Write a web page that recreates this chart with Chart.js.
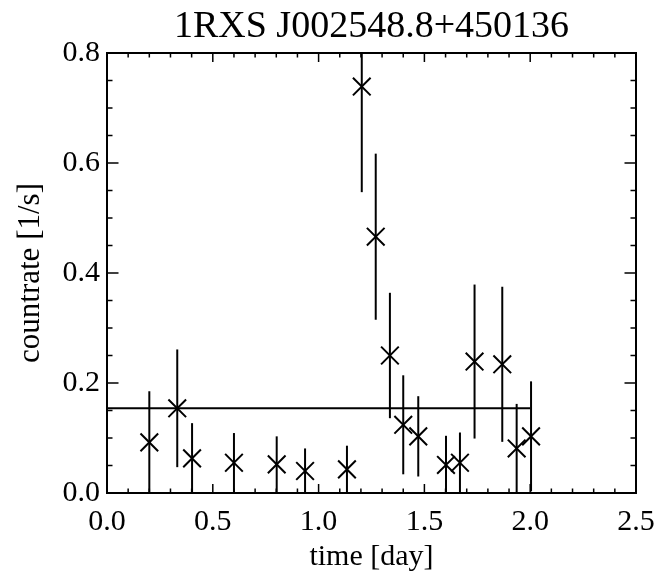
<!DOCTYPE html>
<html>
<head>
<meta charset="utf-8">
<script src="https://cdn.jsdelivr.net/npm/chart.js@4"></script>
<style>
  html, body { margin: 0; padding: 0; background: #fff; }
  #wrap { width: 670px; height: 575px; }
</style>
</head>
<body>
<div id="wrap"><canvas id="lc" width="670" height="575"></canvas></div>
<script>
// ==================== LIGHT CURVE DATA ====================
const times = [0.200, 0.332, 0.402, 0.600, 0.802, 0.936, 1.134, 1.204, 1.270,
               1.337, 1.400, 1.471, 1.602, 1.668, 1.737, 1.868, 1.936, 2.004];
const rates = [0.092, 0.154, 0.063, 0.055, 0.052, 0.040, 0.043, 0.739, 0.466,
               0.250, 0.124, 0.103, 0.051, 0.055, 0.239, 0.234, 0.081, 0.103];
const rateErrors = [0.093, 0.107, 0.064, 0.054, 0.051, 0.041, 0.043, 0.192, 0.151,
                    0.114, 0.090, 0.073, 0.053, 0.055, 0.140, 0.141, 0.081, 0.100];
const meanRate = 0.154;
const meanSpan = [0.0, 2.0];
const xTickValues = [0.0, 0.5, 1.0, 1.5, 2.0, 2.5];
const yTickValues = [0.0, 0.2, 0.4, 0.6, 0.8];
const xMinorStep = 0.1;
const yMinorStep = 0.05;

const SERIF = '"Liberation Serif", "Times New Roman", serif';
Chart.defaults.color = '#000';
Chart.defaults.font.family = SERIF;

// Vertical error bars, drawn through the chart's scales and clipped to the plot
const errorBars = {
  id: 'errorBars',
  afterDatasetsDraw(chart) {
    const { ctx, chartArea: a, scales: { x, y } } = chart;
    ctx.save();
    ctx.beginPath();
    ctx.rect(a.left, a.top, a.right - a.left, a.bottom - a.top);
    ctx.clip();
    ctx.strokeStyle = '#000';
    ctx.lineWidth = 2;
    times.forEach((t, i) => {
      const px = x.getPixelForValue(t);
      ctx.beginPath();
      ctx.moveTo(px, y.getPixelForValue(rates[i] - rateErrors[i]));
      ctx.lineTo(px, y.getPixelForValue(rates[i] + rateErrors[i]));
      ctx.stroke();
    });
    ctx.restore();
  },
};

// IDL-like box frame with inward ticks on all four sides
const frameTicks = {
  id: 'frameTicks',
  afterDraw(chart) {
    const { ctx, chartArea: a, scales: { x, y } } = chart;
    ctx.save();
    ctx.strokeStyle = '#000';
    ctx.lineWidth = 2;
    ctx.strokeRect(a.left, a.top, a.right - a.left, a.bottom - a.top);
    ctx.lineWidth = 1.5;
    ctx.beginPath();
    const nx = Math.round((x.max - x.min) / xMinorStep);
    for (let k = 0; k <= nx; k++) {
      const v = x.min + k * xMinorStep;
      const major = xTickValues.some((m) => Math.abs(m - v) < 1e-6);
      const len = major ? 9 : 4.5;
      const px = x.getPixelForValue(v);
      ctx.moveTo(px, a.bottom); ctx.lineTo(px, a.bottom - len);
      ctx.moveTo(px, a.top); ctx.lineTo(px, a.top + len);
    }
    const ny = Math.round((y.max - y.min) / yMinorStep);
    for (let k = 0; k <= ny; k++) {
      const v = y.min + k * yMinorStep;
      const major = yTickValues.some((m) => Math.abs(m - v) < 1e-6);
      const len = major ? 11.5 : 5.5;
      const py = y.getPixelForValue(v);
      ctx.moveTo(a.left, py); ctx.lineTo(a.left + len, py);
      ctx.moveTo(a.right, py); ctx.lineTo(a.right - len, py);
    }
    ctx.stroke();
    ctx.restore();
  },
};

new Chart(document.getElementById('lc').getContext('2d'), {
  type: 'scatter',
  data: {
    datasets: [
      {
        type: 'line',
        label: 'mean',
        data: meanSpan.map((t) => ({ x: t, y: meanRate })),
        borderColor: '#000',
        borderWidth: 2,
        pointRadius: 0,
        fill: false,
      },
      {
        label: 'countrate',
        data: times.map((t, i) => ({ x: t, y: rates[i] })),
        pointStyle: 'crossRot',
        pointRadius: 12.5,
        borderColor: '#000',
        borderWidth: 2,
        showLine: false,
      },
    ],
  },
  options: {
    responsive: false,
    animation: false,
    layout: { padding: { left: 0, right: 34, top: 0, bottom: 0 } },
    plugins: {
      legend: { display: false },
      tooltip: { enabled: false },
      title: {
        display: true,
        text: '1RXS J002548.8+450136',
        fullSize: false,
        font: { family: SERIF, size: 38, weight: 'normal' },
        padding: { top: 4, bottom: 3.4 },
      },
    },
    scales: {
      x: {
        type: 'linear',
        min: 0,
        max: 2.5,
        afterFit: (s) => { s.height = 82; },
        afterBuildTicks: (s) => { s.ticks = xTickValues.map((v) => ({ value: v })); },
        grid: { display: false, drawTicks: false },
        border: { display: false },
        ticks: {
          autoSkip: false,
          maxRotation: 0,
          padding: 11,
          font: { size: 30 },
          callback: (v) => Number(v).toFixed(1),
        },
        title: {
          display: true,
          text: 'time [day]',
          font: { size: 30 },
          padding: { top: 0, bottom: 0 },
        },
      },
      y: {
        type: 'linear',
        min: 0,
        max: 0.8,
        afterFit: (s) => { s.width = 107; },
        afterBuildTicks: (s) => { s.ticks = yTickValues.map((v) => ({ value: v })); },
        grid: { display: false, drawTicks: false },
        border: { display: false },
        ticks: {
          autoSkip: false,
          padding: 7,
          font: { size: 30 },
          callback: (v) => Number(v).toFixed(1),
        },
        title: {
          display: true,
          text: 'countrate [1/s]',
          font: { size: 31 },
          padding: { top: 12, bottom: 0 },
        },
      },
    },
  },
  plugins: [errorBars, frameTicks],
});
</script>
</body>
</html>
